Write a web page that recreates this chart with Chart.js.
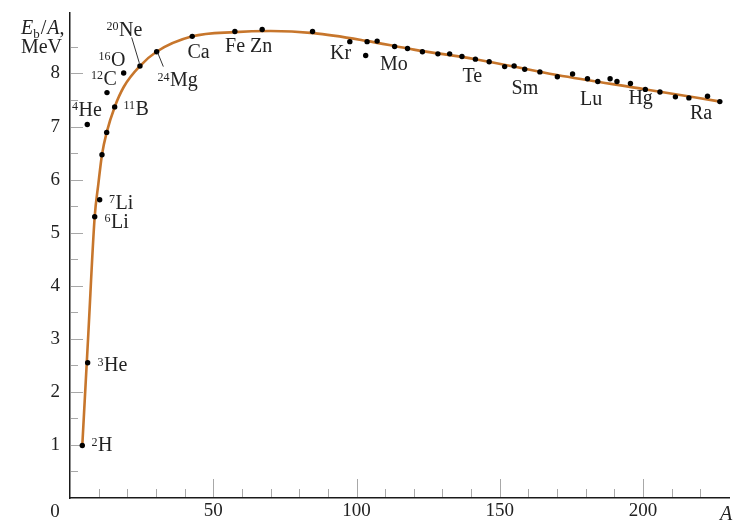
<!DOCTYPE html>
<html>
<head>
<meta charset="utf-8">
<script src="https://cdn.jsdelivr.net/npm/chart.js@4/dist/chart.umd.min.js"></script>
<style>
html,body{margin:0;padding:0;background:#fff;}
#wrap{width:734px;height:521px;}
</style>
</head>
<body>
<div id="wrap"><canvas id="c" width="734" height="521"></canvas></div>
<script>
// ---- data ----
const nuclideA = [4.29, 6.17, 8.62, 10.36, 11.16, 12.80, 6.03, 15.59, 12.91, 18.73, 24.42, 30.24, 42.66, 57.55, 67.07, 84.65,
  97.66, 103.7, 103.2, 107.2, 113.3, 117.8, 123.0, 128.4, 132.5, 136.8, 141.5, 146.3, 151.7, 155.0, 158.7, 164.0,
  170.1, 175.4, 180.6, 184.2, 188.5, 190.9, 195.6, 200.8, 205.9, 211.3, 216.0, 222.5, 226.8];
const nuclideE = [0.99, 2.55, 5.30, 5.62, 6.47, 6.89, 7.04, 7.37, 7.64, 8.01, 8.14, 8.41, 8.70, 8.79, 8.83, 8.79,
  8.60, 8.60, 8.34, 8.61, 8.51, 8.47, 8.41, 8.37, 8.37, 8.32, 8.27, 8.22, 8.13, 8.14, 8.08, 8.03,
  7.94, 7.99, 7.90, 7.85, 7.90, 7.85, 7.81, 7.70, 7.65, 7.56, 7.54, 7.57, 7.47];

const curveA = [4.29, 6.4, 8.62, 9.9, 11.16, 12.8, 15.6, 18.8, 24.4, 30.2, 42.7, 57.5, 70, 85, 103, 120, 141.5, 170, 201, 227];
const curveE = [0.99, 3.1, 5.30, 5.92, 6.47, 6.89, 7.37, 7.75, 8.14, 8.41, 8.70, 8.78, 8.80, 8.76, 8.62, 8.45, 8.27, 7.97, 7.70, 7.47];

const xTickLabels = [0, 50, 100, 150, 200];
const yTickLabels = [1, 2, 3, 4, 5, 6, 7, 8];
const xMinorTicks = [10, 20, 30, 40, 60, 70, 80, 90, 110, 120, 130, 140, 160, 170, 180, 190, 210, 220];
const yMinorTicks = [0.5, 1.5, 2.5, 3.5, 4.5, 5.5, 6.5, 7.5, 8.5];

const labelMass   = ['2','3','6','7','4','11','12','16','20','24','','','','','','','','','',''];
const labelSymbol = ['H','He','Li','Li','He','B','C','O','Ne','Mg','Ca','Fe','Zn','Kr','Mo','Te','Sm','Lu','Hg','Ra'];
// label anchors (left edge, centre of capitals) in data units
const labelA = [7.50, 9.60, 12.04, 13.61, 0.70, 18.67, 7.33, 9.95, 12.74, 30.54, 41.01, 54.10, 62.83, 90.75, 108.2, 137.0, 154.1, 178.0, 194.9, 216.4];
const labelE = [1.00, 2.51, 5.22, 5.57, 7.32, 7.34, 7.90, 8.26, 8.83, 7.88, 8.42, 8.53, 8.53, 8.40, 8.19, 7.96, 7.73, 7.52, 7.54, 7.26];
// leader lines [A1,E1,A2,E2]
const leaderNe = [21.52, 8.68, 24.19, 8.20];
const leaderMg = [30.61, 8.39, 32.57, 8.13];

const SERIF = '"Liberation Serif", "DejaVu Serif", serif';

const points = nuclideA.map((a, i) => ({x: a, y: nuclideE[i]}));
const curve = curveA.map((a, i) => ({x: a, y: curveE[i]}));

function tickLine(ctx, x1, y1, x2, y2) {
  ctx.beginPath();
  ctx.moveTo(x1, y1);
  ctx.lineTo(x2, y2);
  ctx.stroke();
}

const decor = {
  id: 'decor',
  beforeDatasetsDraw(chart) {
    const ctx = chart.ctx, xs = chart.scales.x, ys = chart.scales.y;
    const x0 = Math.round(xs.left) + 1, y0 = Math.round(ys.bottom) - 1;
    ctx.save();
    ctx.lineWidth = 1;
    ctx.strokeStyle = '#a8a8a8';
    xTickLabels.slice(1).forEach(v => {
      const px = Math.round(xs.getPixelForValue(v)) + 0.5;
      tickLine(ctx, px, y0, px, y0 - 18);
    });
    xMinorTicks.forEach(v => {
      const px = Math.round(xs.getPixelForValue(v)) + 0.5;
      tickLine(ctx, px, y0, px, y0 - 8);
    });
    yTickLabels.forEach(v => {
      const py = Math.round(ys.getPixelForValue(v)) + 0.5;
      tickLine(ctx, x0, py, x0 + 12, py);
    });
    yMinorTicks.forEach(v => {
      const py = Math.round(ys.getPixelForValue(v)) + 0.5;
      tickLine(ctx, x0, py, x0 + 7, py);
    });
    ctx.restore();
  },
  afterDatasetsDraw(chart) {
    const ctx = chart.ctx, xs = chart.scales.x, ys = chart.scales.y;
    ctx.save();
    ctx.fillStyle = '#222';
    ctx.textBaseline = 'alphabetic';
    ctx.textAlign = 'left';
    for (let i = 0; i < labelSymbol.length; i++) {
      let px = xs.getPixelForValue(labelA[i]);
      const py = ys.getPixelForValue(labelE[i]) + 6.5;
      if (labelMass[i]) {
        ctx.font = '12px ' + SERIF;
        ctx.fillText(labelMass[i], px, py - 5.8);
        px += ctx.measureText(labelMass[i]).width + 0.5;
      }
      ctx.font = '20px ' + SERIF;
      ctx.fillText(labelSymbol[i], px, py);
    }
    // leader lines
    ctx.strokeStyle = '#333';
    ctx.lineWidth = 1;
    ctx.beginPath();
    [leaderNe, leaderMg].forEach(l => {
      ctx.moveTo(xs.getPixelForValue(l[0]), ys.getPixelForValue(l[1]));
      ctx.lineTo(xs.getPixelForValue(l[2]), ys.getPixelForValue(l[3]));
    });
    ctx.stroke();
    // axis titles
    ctx.font = 'italic 20px ' + SERIF;
    let tx = 21, ty = 34;
    ctx.fillText('E', tx, ty); tx += ctx.measureText('E').width;
    ctx.font = '13px ' + SERIF;
    ctx.fillText('b', tx, ty + 4); tx += ctx.measureText('b').width + 1;
    ctx.font = '20px ' + SERIF;
    ctx.fillText('/', tx, ty); tx += ctx.measureText('/').width + 1;
    ctx.font = 'italic 20px ' + SERIF;
    ctx.fillText('A', tx, ty); tx += ctx.measureText('A').width;
    ctx.font = '20px ' + SERIF;
    ctx.fillText(',', tx, ty);
    ctx.textAlign = 'right';
    ctx.fillText('MeV', 62, 53);
    // x-axis end title and origin label
    ctx.textAlign = 'center';
    ctx.font = 'italic 20px ' + SERIF;
    ctx.fillText('A', 726, 520);
    ctx.font = '19px ' + SERIF;
    ctx.fillText(String(xTickLabels[0]), xs.left - 15, 517);
    ctx.restore();
  }
};

new Chart(document.getElementById('c'), {
  type: 'scatter',
  data: {
    datasets: [
      {
        label: 'nuclides',
        data: points,
        pointRadius: 2.7,
        pointHoverRadius: 2.7,
        pointBackgroundColor: '#000',
        pointBorderWidth: 0,
        showLine: false
      },
      {
        label: 'curve',
        data: curve,
        showLine: true,
        pointRadius: 0,
        borderColor: '#c7762c',
        borderWidth: 2.6,
        cubicInterpolationMode: 'monotone',
        fill: false
      }
    ]
  },
  options: {
    responsive: false,
    animation: false,
    devicePixelRatio: 1,
    layout: {padding: {top: 13, right: 5, left: 0, bottom: 0}},
    plugins: {legend: {display: false}, tooltip: {enabled: false}},
    scales: {
      x: {
        type: 'linear',
        min: 0, max: 230,
        afterBuildTicks: s => { s.ticks = xTickLabels.map(v => ({value: v})); },
        afterFit: s => { s.height = 23; s.paddingLeft = 0; s.paddingRight = 0; },
        grid: {display: false, drawTicks: false},
        border: {display: true, color: '#1a1a1a', width: 1.5},
        ticks: {
          autoSkip: false,
          maxRotation: 0,
          padding: 2,
          color: '#222',
          font: {family: SERIF, size: 19},
          callback: v => (v === 0 ? '' : String(v))
        }
      },
      y: {
        type: 'linear',
        min: 0, max: 9.14,
        afterBuildTicks: s => { s.ticks = yTickLabels.map(v => ({value: v})); },
        afterFit: s => { s.width = 70; s.paddingTop = 0; s.paddingBottom = 0; },
        grid: {display: false, drawTicks: false},
        border: {display: true, color: '#1a1a1a', width: 1.5},
        ticks: {
          autoSkip: false,
          padding: 10,
          color: '#222',
          font: {family: SERIF, size: 19},
          callback: v => String(v)
        }
      }
    }
  },
  plugins: [decor]
});
</script>
</body>
</html>
